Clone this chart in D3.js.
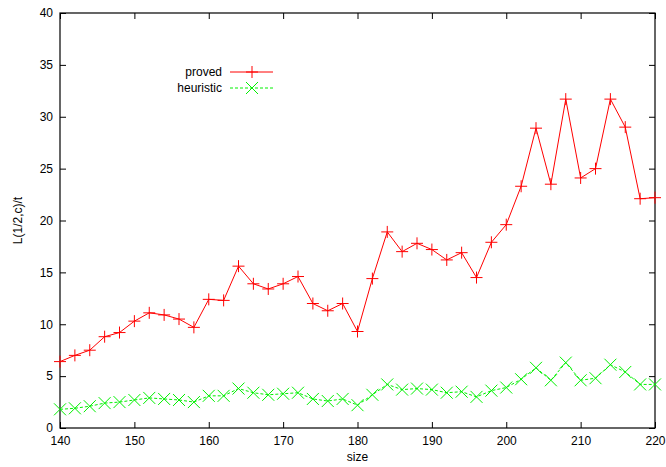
<!DOCTYPE html>
<html>
<head>
<meta charset="utf-8">
<script src="https://cdn.jsdelivr.net/npm/d3@7"></script>
<style>
	body { margin: 0; background: #fff; }
	text { font-family: "Liberation Sans", Arial, sans-serif; font-size: 12px; fill: #000; }
</style>
</head>
<body>
<svg id="chart" width="666" height="467"></svg>
<script>
// Chart values
var sizes = d3.range(140, 221, 2);
var proved = [6.4, 7.0, 7.5, 8.8, 9.2, 10.3, 11.1, 10.9, 10.5, 9.7,
	12.4, 12.3, 15.6, 13.9, 13.4, 13.9, 14.6, 12.0, 11.3, 12.0,
	9.3, 14.4, 18.9, 17.0, 17.8, 17.2, 16.2, 16.9, 14.5, 17.9,
	19.6, 23.3, 28.9, 23.5, 31.7, 24.1, 25.0, 31.7, 29.0, 22.1, 22.2];
var heuristic = [1.8, 1.9, 2.1, 2.4, 2.5, 2.7, 2.9, 2.8, 2.7, 2.5,
	3.1, 3.1, 3.8, 3.4, 3.2, 3.3, 3.4, 2.8, 2.6, 2.8,
	2.2, 3.2, 4.2, 3.7, 3.8, 3.7, 3.4, 3.5, 3.0, 3.6,
	3.9, 4.7, 5.8, 4.6, 6.3, 4.6, 4.8, 6.1, 5.4, 4.2, 4.2];
var xTicks = d3.range(140, 221, 10);
var yTicks = d3.range(0, 41, 5);

var svg = d3.select("#chart");
var m = { l: 60, r: 11, t: 13, b: 39 };
var W = 666, H = 467;

var x = d3.scaleLinear().domain([140, 220]).range([m.l, W-m.r]);
var y = d3.scaleLinear().domain([0, 40]).range([H-m.b, m.t]);

	// Gnuplot style: ticks pointing inward, mirrored on all four sides
function axis(gen, tr, vals, size, labels)
{
	var g = svg.append("g").attr("transform", tr)
		.call(gen.tickValues(vals).tickSizeInner(size).tickSizeOuter(0).tickPadding(labels ? 5 : 0)
			.tickFormat(labels ? d3.format("d") : ""));
	g.select(".domain").remove();
	g.selectAll("line").attr("stroke", "#000");
	g.selectAll("text").style("font-family", null).style("font-size", null).attr("fill", "#000");
	return g;
}
var bx = axis(d3.axisBottom(x), "translate(0," + y(0) + ")", xTicks, -6, true);
bx.selectAll("text").attr("dy", "1.2em");
bx.selectAll(".tick text").attr("y", 3);
axis(d3.axisTop(x), "translate(0," + y(40) + ")", xTicks, -6, false);
var ly = axis(d3.axisLeft(y), "translate(" + x(140) + ",0)", yTicks, -6, true);
ly.selectAll(".tick text").attr("x", -7);
axis(d3.axisRight(y), "translate(" + x(220) + ",0)", yTicks, -6, false);

svg.append("rect")
	.attr("x", x(140)).attr("y", y(40))
	.attr("width", x(220)-x(140)).attr("height", y(0)-y(40))
	.attr("fill", "none").attr("stroke", "#000").attr("stroke-width", 1.2);

svg.append("text").attr("x", (x(140)+x(220))/2).attr("y", 461)
	.attr("text-anchor", "middle").text("size");
svg.append("text")
	.attr("transform", "translate(22," + y(20) + ") rotate(-90)")
	.attr("text-anchor", "middle").text("L(1/2,c)/t");

var line = d3.line().x(function(d) { return x(d[0]); }).y(function(d) { return y(d[1]); });

function plus(g, cx, cy, s, col)
{
	g.append("path").attr("d", "M" + (cx-s) + "," + cy + "H" + (cx+s) + "M" + cx + "," + (cy-s) + "V" + (cy+s))
		.attr("stroke", col).attr("stroke-width", 1).attr("fill", "none");
}
function cross(g, cx, cy, s, col)
{
	g.append("path").attr("d", "M" + (cx-s) + "," + (cy-s) + "L" + (cx+s) + "," + (cy+s) +
			"M" + (cx-s) + "," + (cy+s) + "L" + (cx+s) + "," + (cy-s))
		.attr("stroke", col).attr("stroke-width", 1).attr("fill", "none");
}

var series = [
	{ name: "proved", vals: proved, col: "#ff0000", dash: null, mark: plus },
	{ name: "heuristic", vals: heuristic, col: "#00f000", dash: "3,2", mark: cross }
];

var plot = svg.append("g");
series.forEach(function(s, i) {
	var pts = sizes.map(function(v, j) { return [v, s.vals[j]]; });
	plot.append("path").datum(pts).attr("d", line)
		.attr("fill", "none").attr("stroke", s.col).attr("stroke-width", 1)
		.attr("stroke-dasharray", s.dash);
	pts.forEach(function(p) { s.mark(plot, x(p[0]), y(p[1]), 6, s.col); });

		// Legend entry
	var ly0 = 72 + i*16;
	svg.append("text").attr("x", 222).attr("y", ly0 + 4).attr("text-anchor", "end").text(s.name);
	svg.append("line").attr("x1", 230).attr("x2", 273).attr("y1", ly0).attr("y2", ly0)
		.attr("stroke", s.col).attr("stroke-dasharray", s.dash);
	s.mark(svg, 252, ly0, 6, s.col);
});
</script>
</body>
</html>
